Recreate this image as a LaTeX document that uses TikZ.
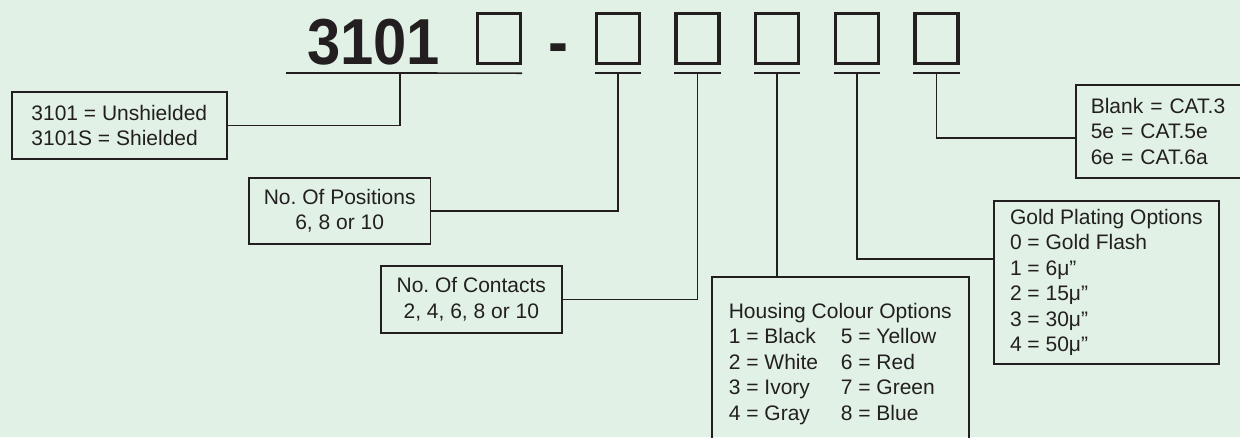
\documentclass[tikz,border=0pt]{standalone}
\usepackage{fontspec}
\setmainfont{Liberation Sans}
\newfontfamily\codefont[FakeStretch=0.92]{Liberation Sans}
\usetikzlibrary{positioning}
\definecolor{ink}{RGB}{35,31,32}
\definecolor{mint}{RGB}{225,241,230}
\frenchspacing

\begin{document}
\begin{tikzpicture}[
  x=1pt, y=-1pt,
  codetext/.style={inner sep=0pt, text=ink, font=\codefont\bfseries\fontsize{65}{65}\selectfont},
  codebox/.style={draw=ink, line width=3.3pt, minimum width=43pt,
                  minimum height=50pt, inner sep=0pt},
  infobox/.style={draw=ink, line width=1.6pt, align=#1, inner xsep=15pt,
                  inner ysep=0pt, text=ink, font=\fontsize{21}{25.5}\selectfont},
  infobox/.default=left,
  wire/.style={draw=ink, line width=1.5pt},
  node distance=33.3pt
]
  \useasboundingbox (0,0) rectangle (1240,437);
  \fill[mint] (0,0) rectangle (1240,437);
  \clip (0,0) rectangle (1240,437);

  % part number
  \node[codetext, anchor=base west] (t3101) at (307,64) {3101};
  \node[codebox] (b1) at (499,38.5) {};
  \node[codetext, anchor=base] (dash) at (558,64) {-};
  \node[codebox] (b2) at (618,38.5) {};
  \node[codebox, right=of b2] (b3) {};
  \node[codebox, right=of b3] (b4) {};
  \node[codebox, right=of b4] (b5) {};
  \node[codebox, right=of b5] (b6) {};

  % underlines
  \coordinate (ustart) at (286,73);
  \coordinate (u1) at (400,73);
  \draw[wire, line width=1.7pt] (ustart) -- ([yshift=-8pt]b1.south east);
  \foreach \i in {2,...,6} {
    \draw[wire, line width=1.7pt] ([yshift=-8pt]b\i.south west) -- ([yshift=-8pt]b\i.south east);
    \coordinate (u\i) at ([yshift=-8pt]b\i.south);
  }

  % option boxes
  \node[infobox, anchor=north west, minimum width=215pt, minimum height=67pt]
    (shield) at (11,91) {3101 = Unshielded\\3101S = Shielded};
  \node[infobox=center, anchor=north west, minimum width=180pt, minimum height=66pt]
    (pos) at (248,177) {No. Of Positions\\6, 8 or 10};
  \node[infobox=center, anchor=north west, minimum width=181pt, minimum height=67pt]
    (cont) at (380,265) {No. Of Contacts\\2, 4, 6, 8 or 10};
  \node[infobox, anchor=north west, minimum width=257pt, inner ysep=26pt]
    (colour) at (711,276) {Housing Colour Options\\
      \makebox[112pt][l]{1 = Black}5 = Yellow\\
      \makebox[112pt][l]{2 = White}6 = Red\\
      \makebox[112pt][l]{3 = Ivory}7 = Green\\
      \makebox[112pt][l]{4 = Gray}8 = Blue};
  \node[infobox, anchor=north west, minimum width=225pt, minimum height=163pt]
    (gold) at (993,200) {Gold Plating Options\\0 = Gold Flash\\1 = 6μ”\\2 = 15μ”\\3 = 30μ”\\4 = 50μ”};
  \node[infobox, anchor=north west, text width=200pt, minimum height=93pt]
    (cat) at (1075,84) {Blank = CAT.3\\5e = CAT.5e\\6e = CAT.6a};

  % connectors
  \draw[wire] (shield.east) -| (u1);
  \draw[wire] (pos.east) -| (u2);
  \draw[wire] (cont.east) -| (u3);
  \draw[wire] (u4) -- (u4 |- colour.north);
  \draw[wire] (u5) |- ([yshift=23.5pt]gold.west);
  \draw[wire] (u6) |- ([yshift=-6.5pt]cat.west);
\end{tikzpicture}
\end{document}
